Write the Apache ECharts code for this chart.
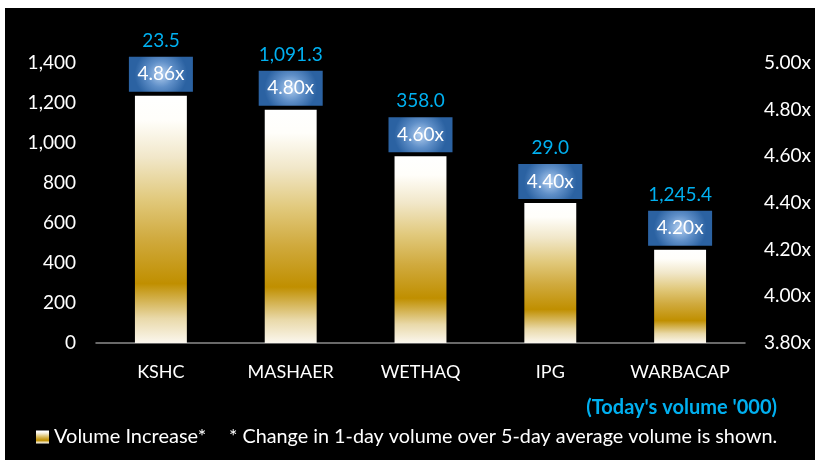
<!DOCTYPE html>
<html>
<head>
<meta charset="utf-8">
<script src="https://cdn.jsdelivr.net/npm/echarts@6/dist/echarts.min.js"></script>
<style>
  html, body { margin: 0; padding: 0; background: #fff; }
  #chart { width: 815px; height: 460px; }
</style>
</head>
<body>
<div id="chart"></div>
<script>
// chart data
const categories = ["KSHC", "MASHAER", "WETHAQ", "IPG", "WARBACAP"];
const multiples = [4.86, 4.8, 4.6, 4.4, 4.2];
const volumes = [23.5, 1091.3, 358.0, 29.0, 1245.4];
const volumeTicks = [0, 200, 400, 600, 800, 1000, 1200, 1400];
const multipleTicks = [3.8, 4.0, 4.2, 4.4, 4.6, 4.8, 5.0];

const FONT = "Lato";
const chart = echarts.init(document.getElementById("chart"));

// gold bar fill
const goldFill = new echarts.graphic.LinearGradient(0, 0, 0, 1, [
  { offset: 0, color: "#ffffff" },
  { offset: 0.1, color: "#fffefa" },
  { offset: 0.25, color: "#f1e7c9" },
  { offset: 0.42, color: "#e1c97c" },
  { offset: 0.58, color: "#d0aa3e" },
  { offset: 0.76, color: "#c08f00" },
  { offset: 0.9, color: "#e9d9a9" },
  { offset: 1, color: "#fbf7ee" },
]);

const boxFill = new echarts.graphic.RadialGradient(0.5, 0.5, 0.75, [
  { offset: 0, color: "#b3cff0" },
  { offset: 0.5, color: "#5f8fc8" },
  { offset: 1, color: "#2b62a2" },
]);

const fmtVol = (v) =>
  v.toLocaleString("en-US", { minimumFractionDigits: 1, maximumFractionDigits: 1 });

const option = {
  backgroundColor: "#ffffff",
  textStyle: { fontFamily: FONT },
  graphic: [
    {
      type: "rect",
      z: -10,
      shape: { x: 5, y: 8, width: 815, height: 460 },
      style: { fill: "#000000" },
    },
    {
      type: "text",
      x: 229,
      y: 437,
      style: {
        text: "* Change in 1-day volume over 5-day average volume is shown.",
        fill: "#ffffff",
        font: "19.8px " + FONT,
        verticalAlign: "middle",
      },
    },
    {
      type: "text",
      x: 777,
      y: 408,
      style: {
        text: "(Today's volume '000)",
        fill: "#00b0f0",
        font: "bold 20px " + FONT,
        align: "right",
        verticalAlign: "middle",
      },
    },
  ],
  legend: {
    data: ["Volume Increase*"],
    left: 31,
    top: 422,
    icon: "rect",
    itemWidth: 13,
    itemHeight: 13,
    itemGap: 5,
    textStyle: { color: "#ffffff", fontSize: 20, fontFamily: FONT },
  },
  grid: { left: 96, right: 70, top: 63, bottom: 117 },
  xAxis: {
    type: "category",
    data: categories,
    axisTick: { show: false },
    axisLine: { lineStyle: { color: "#8c8c8c", width: 1.5 } },
    axisLabel: { color: "#ffffff", fontSize: 18, margin: 20 },
  },
  yAxis: [
    {
      type: "value",
      min: volumeTicks[0],
      max: volumeTicks[volumeTicks.length - 1],
      interval: 200,
      splitLine: { show: false },
      axisLine: { show: false },
      axisTick: { show: false },
      axisLabel: {
        color: "#ffffff",
        fontSize: 19,
        margin: 20,
        formatter: (v) => v.toLocaleString("en-US"),
      },
    },
    {
      type: "value",
      min: multipleTicks[0],
      max: multipleTicks[multipleTicks.length - 1],
      interval: 0.2,
      splitLine: { show: false },
      axisLine: { show: false },
      axisTick: { show: false },
      axisLabel: {
        color: "#ffffff",
        fontSize: 19,
        margin: 19,
        formatter: (v) => v.toFixed(2) + "x",
      },
    },
  ],
  series: [
    {
      name: "Volume Increase*",
      type: "bar",
      yAxisIndex: 1,
      barWidth: "40%",
      data: multiples,
      itemStyle: { color: goldFill },
      label: {
        show: true,
        position: "top",
        distance: 4,
        formatter: (p) => "{v|" + fmtVol(volumes[p.dataIndex]) + "}\n{m|" + p.value.toFixed(2) + "x}",
        rich: {
          v: { color: "#00b0f0", fontSize: 19, lineHeight: 32, fontFamily: FONT, align: "center" },
          m: {
            color: "#ffffff",
            fontSize: 19,
            fontFamily: FONT,
            backgroundColor: boxFill,
            width: 64,
            height: 35,
            lineHeight: 35,
            align: "center",
          },
        },
      },
    },
  ],
};

chart.setOption(option);
</script>
</body>
</html>
